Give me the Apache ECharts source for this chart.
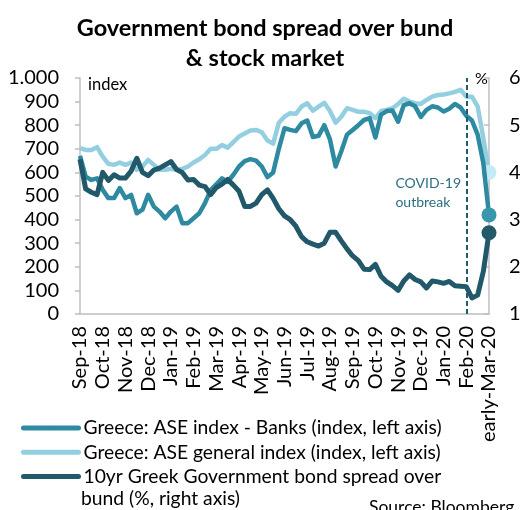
<!DOCTYPE html>
<html>
<head>
<meta charset="utf-8">
<script src="https://cdn.jsdelivr.net/npm/echarts@6/dist/echarts.min.js"></script>
<style>
  html, body { margin: 0; padding: 0; background: #ffffff; }
  #chart { width: 530px; height: 510px; }
</style>
</head>
<body>
<div id="chart"></div>
<script>
// ---- Data ----
const monthLabels = ['Sep-18','Oct-18','Nov-18','Dec-18','Jan-19','Feb-19','Mar-19','Apr-19','May-19','Jun-19','Jul-19','Aug-19','Sep-19','Oct-19','Nov-19','Dec-19','Jan-20','Feb-20','early-Mar-20'];
const pointsPerMonth = 4; // roughly weekly observations

// Greece: ASE index - Banks (index, left axis)
const banksIndex = [670,582,568,575,526,491,491,533,491,505,
  427,442,505,455,434,406,434,455,385,385,
  406,427,470,525,550,575,560,590,625,648,
  656,650,625,580,600,700,787,780,775,808,
  820,750,755,800,740,625,690,760,780,800,
  822,830,748,845,860,862,815,885,893,880,
  835,865,880,875,858,870,890,875,840,820,
  760,640,420];

// Greece: ASE general index (index, left axis)
const generalIndex = [703,695,695,707,667,636,632,642,632,642,
  611,625,653,632,611,611,615,611,615,625,
  642,656,674,700,700,716,705,728,752,765,
  778,780,770,735,722,810,836,851,848,879,
  893,862,879,895,860,810,836,872,865,857,
  857,851,830,860,865,872,890,912,900,893,
  890,907,921,928,930,935,941,950,921,921,
  880,745,600];

// 10yr Greek Government bond spread over bund (%, right axis)
const bondSpread = [4.28,3.65,3.58,3.53,4.0,3.83,3.95,3.88,3.88,4.03,
  4.3,4.0,3.93,4.05,4.09,4.16,4.23,4.06,4.0,3.84,
  3.85,3.73,3.7,3.53,3.68,3.75,3.85,3.73,3.6,3.28,
  3.28,3.35,3.53,3.63,3.45,3.23,3.08,3.0,2.86,2.64,
  2.53,2.48,2.44,2.5,2.73,2.73,2.55,2.38,2.23,2.13,
  1.95,1.94,2.05,1.8,1.68,1.6,1.5,1.7,1.83,1.73,
  1.68,1.55,1.7,1.68,1.65,1.69,1.6,1.59,1.58,1.34,
  1.4,1.9,2.72];

const covidIndex = 68; // position of the "COVID-19 outbreak" marker line

const seriesNames = [
  'Greece: ASE index - Banks (index, left axis)',
  'Greece: ASE general index (index, left axis)',
  '10yr Greek Government bond spread over bund (%, right axis)'
];

// ---- Build categories ----
const categories = banksIndex.map((_, i) => {
  const m = monthLabels[Math.floor(i / pointsPerMonth)];
  return i % pointsPerMonth === 0 ? m : m + ' #' + (i % pointsPerMonth + 1);
});
const lastIdx = categories.length - 1;

const colBanks = '#2e8aa1';
const colGeneral = '#93cfe0';
const colSpread = '#22596a';
const FONT = 'Lato, "Open Sans", sans-serif';

function endSymbol(v, p) { return p.dataIndex === lastIdx ? 'circle' : 'none'; }

const chart = echarts.init(document.getElementById('chart'), null, { renderer: 'canvas' });

chart.setOption({
  animation: false,
  backgroundColor: '#ffffff',
  textStyle: { fontFamily: FONT },
  title: {
    text: 'Government bond spread over bund\n& stock market',
    left: 'center',
    top: 8,
    padding: 5,
    textStyle: { fontFamily: FONT, fontSize: 23.5, fontWeight: 'bold', color: '#000', lineHeight: 30 }
  },
  grid: { left: 80, right: 41, top: 78, bottom: 196, containLabel: false },
  legend: {
    orient: 'vertical',
    left: 16,
    top: 413,
    padding: 5,
    itemWidth: 55,
    itemHeight: 5,
    itemGap: 4.3,
    selectedMode: false,
    textStyle: { fontFamily: FONT, fontSize: 19.3, color: '#000', lineHeight: 20 },
    lineStyle: { width: 5, cap: 'round' },
    formatter: function (name) {
      return name === seriesNames[2] ? '10yr Greek Government bond spread over' : name;
    },
    data: [
      { name: seriesNames[0], itemStyle: { color: colBanks } },
      { name: seriesNames[1], itemStyle: { color: colGeneral } },
      { name: seriesNames[2], itemStyle: { color: colSpread } }
    ]
  },
  xAxis: {
    type: 'category',
    data: categories,
    boundaryGap: false,
    axisLine: { show: true, lineStyle: { color: '#bfbfbf', width: 1.5 } },
    axisTick: { show: false },
    axisLabel: {
      rotate: 90,
      margin: 12,
      fontSize: 20,
      color: '#000',
      fontFamily: FONT,
      padding: [0, 0, 6, 0],
      interval: function (idx) { return idx % pointsPerMonth === 0; },
      formatter: function (v, idx) { return monthLabels[Math.floor(idx / pointsPerMonth)]; }
    },
    splitLine: { show: false }
  },
  yAxis: [
    {
      type: 'value', min: 0, max: 1000, interval: 100, position: 'left',
      axisLine: { show: true, lineStyle: { color: '#bfbfbf', width: 1.5 } },
      axisTick: { show: true, length: 5, lineStyle: { color: '#bfbfbf', width: 1.5 } },
      axisLabel: {
        margin: 21, fontSize: 20, color: '#000', fontFamily: FONT,
        formatter: function (v) { return v === 1000 ? '1.000' : String(v); }
      },
      splitLine: { show: false }
    },
    {
      type: 'value', min: 1, max: 6, interval: 1, position: 'right',
      axisLine: { show: true, lineStyle: { color: '#bfbfbf', width: 1.5 } },
      axisTick: { show: true, inside: true, length: 5, lineStyle: { color: '#bfbfbf', width: 1.5 } },
      axisLabel: { margin: 20, fontSize: 20, color: '#000', fontFamily: FONT },
      splitLine: { show: false }
    }
  ],
  series: [
    {
      name: seriesNames[1], type: 'line', yAxisIndex: 0, data: generalIndex,
      symbol: endSymbol, symbolSize: 15, showSymbol: true, showAllSymbol: true,
      lineStyle: { color: colGeneral, width: 4.5, join: 'round' },
      itemStyle: { color: '#c4ecf8', borderWidth: 0 },
      z: 2
    },
    {
      name: seriesNames[0], type: 'line', yAxisIndex: 0, data: banksIndex,
      symbol: endSymbol, symbolSize: 15, showSymbol: true, showAllSymbol: true,
      lineStyle: { color: colBanks, width: 4.5, join: 'round' },
      itemStyle: { color: '#3996ad', borderWidth: 0 },
      z: 3,
      markLine: {
        silent: true, symbol: 'none',
        label: { show: false },
        lineStyle: { color: '#1f5c6d', type: [5, 3], width: 2 },
        data: [{ xAxis: covidIndex }]
      }
    },
    {
      name: seriesNames[2], type: 'line', yAxisIndex: 1, data: bondSpread,
      symbol: endSymbol, symbolSize: 15, showSymbol: true, showAllSymbol: true,
      lineStyle: { color: colSpread, width: 5, join: 'round' },
      itemStyle: { color: '#245b6a', borderWidth: 0 },
      z: 4
    }
  ],
  graphic: [
    { type: 'text', left: 88, top: 76, style: { text: 'index', fontFamily: FONT, fontSize: 16.5, fill: '#000' } },
    { type: 'text', left: 475, top: 71, style: { text: '%', fontFamily: FONT, fontSize: 16, fill: '#000' } },
    { type: 'text', right: 69, top: 174, style: { text: 'COVID-19\noutbreak', fontFamily: FONT, fontSize: 14, lineHeight: 19, fill: '#2d6f82', align: 'left' } },
    { type: 'text', left: 81, top: 489, style: { text: 'bund (%, right axis)', fontFamily: FONT, fontSize: 19.3, fill: '#000' } },
    { type: 'text', left: 369, top: 498, style: { text: 'Source: Bloomberg', fontFamily: FONT, fontSize: 17.5, fill: '#000' } }
  ]
});
</script>
</body>
</html>
